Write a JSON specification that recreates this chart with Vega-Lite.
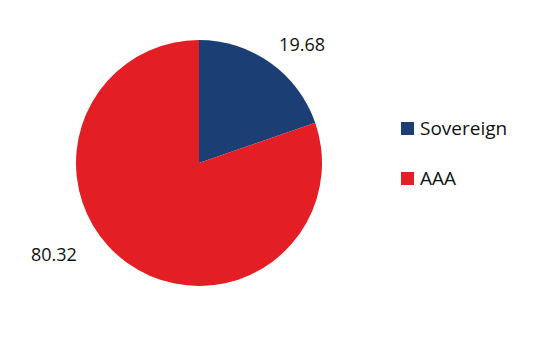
{
  "$schema": "https://vega.github.io/schema/vega-lite/v6.json",
  "width": 398,
  "height": 326,
  "autosize": "none",
  "padding": {"left": 0, "top": 0, "right": 139, "bottom": 24},
  "background": "white",
  "config": {"view": {"stroke": null}, "font": "Open Sans"},
  "data": {"values": [
    {"cat": "Sovereign", "value": 19.68, "order": 1},
    {"cat": "AAA", "value": 80.32, "order": 2}
  ]},
  "encoding": {
    "theta": {"field": "value", "type": "quantitative", "stack": true},
    "order": {"field": "order", "type": "quantitative"}
  },
  "layer": [
    {
      "mark": {"type": "arc", "outerRadius": 123},
      "encoding": {
        "color": {
          "field": "cat", "type": "nominal",
          "scale": {"domain": ["Sovereign", "AAA"], "range": ["#1b3f74", "#e31e25"]},
          "legend": {
            "title": null, "orient": "none", "legendX": 398, "legendY": 119,
            "symbolType": "square", "symbolSize": 169, "symbolStrokeWidth": 0,
            "labelFontSize": 19, "labelColor": "#111", "labelOffset": 3,
            "rowPadding": 30, "labelFont": "Open Sans"
          }
        }
      }
    },
    {
      "mark": {"type": "text", "radius": 145, "dx": 19, "dy": 1, "fontSize": 18, "color": "#111"},
      "encoding": {
        "text": {"condition": {"test": "datum.cat === 'Sovereign'", "field": "value", "type": "quantitative", "format": ".2f"}, "value": ""}
      }
    },
    {
      "mark": {"type": "text", "radius": 145, "dx": -61, "dy": -25, "fontSize": 18, "color": "#111"},
      "encoding": {
        "text": {"condition": {"test": "datum.cat === 'AAA'", "field": "value", "type": "quantitative", "format": ".2f"}, "value": ""}
      }
    }
  ]
}
